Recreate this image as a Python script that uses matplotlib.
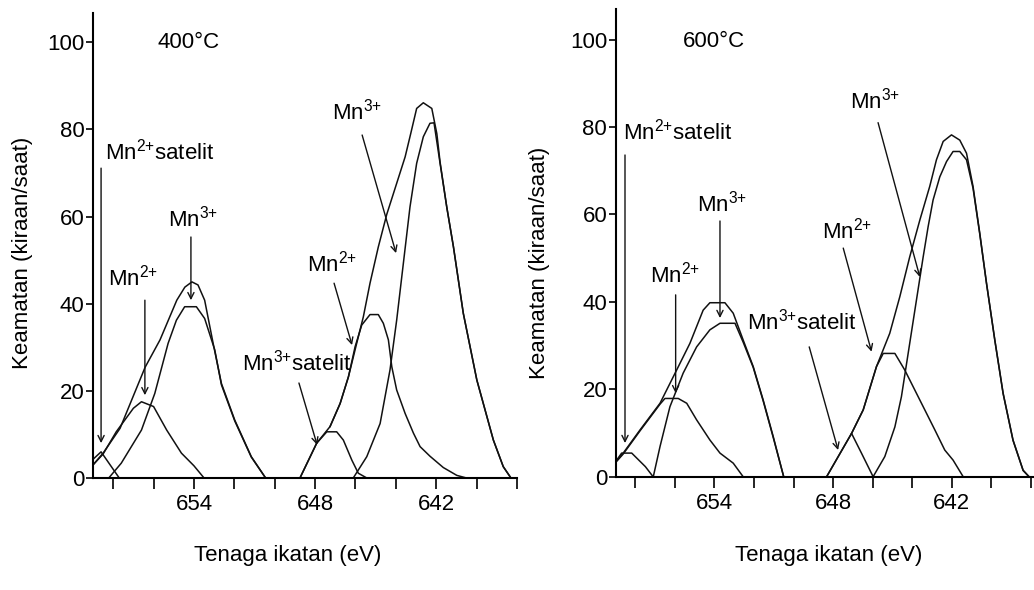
import matplotlib
matplotlib.use("Agg")
import matplotlib.pyplot as plt

plt.rcParams["font.family"] = ["Liberation Sans", "DejaVu Sans"]
plt.rcParams["mathtext.fontset"] = "custom"
plt.rcParams["mathtext.rm"] = "Liberation Sans"
plt.rcParams["mathtext.default"] = "regular"

# ---- 400 C : values (binding energy eV, counts/s) ----
sat2_400_ev = [658.95, 658.6, 658.15, 657.7]
sat2_400_i = [4.5, 6.0, 3.0, 0.0]
mn2a_400_ev = [659.0, 658.5, 657.85, 657.0, 656.6, 656.0, 655.35, 654.62, 654.0, 653.5]
mn2a_400_i = [3.0, 5.5, 10.6, 16.0, 17.5, 16.4, 11.0, 5.7, 2.8, 0.0]
mn3a_400_ev = [658.22, 657.6, 656.6, 655.94, 655.28, 654.87, 654.46, 653.88, 653.47,
               652.97, 652.64, 651.98, 651.16, 650.45]
mn3a_400_i = [0.0, 3.4, 11.0, 19.4, 30.9, 36.2, 39.3, 39.3, 36.6, 29.4, 21.4, 13.1, 4.8, 0.0]
env1_400_ev = [659.0, 658.5, 657.66, 656.42, 655.68, 654.85, 654.45, 654.1, 653.8, 653.47,
               653.05, 652.64, 651.98, 651.16, 650.45]
env1_400_i = [3.0, 5.7, 11.4, 25.4, 31.7, 40.8, 43.8, 45.0, 44.3, 40.8, 30.9, 21.7, 13.3, 4.9, 0.0]
sat3_400_ev = [648.75, 647.92, 647.42, 646.93, 646.6, 646.18, 645.86, 645.44]
sat3_400_i = [0.0, 8.0, 10.6, 10.6, 8.7, 4.1, 1.1, 0.0]
mn2b_400_ev = [647.26, 646.76, 646.35, 646.02, 645.69, 645.28, 644.87, 644.62, 644.37, 644.2,
               643.96, 643.54, 643.13, 642.8, 642.31, 641.65, 640.98, 640.5]
mn2b_400_i = [11.8, 17.1, 23.2, 30.1, 35.1, 37.5, 37.5, 35.5, 31.7, 25.5, 20.2, 14.8, 10.3, 7.2,
              5.0, 2.4, 0.6, 0.0]
mn3b_400_ev = [646.11, 645.44, 644.78, 644.29, 643.96, 643.63, 643.3, 642.97, 642.64, 642.31,
               642.11, 641.81, 641.48, 641.15, 640.66, 639.99, 639.17, 638.68, 638.3]
mn3b_400_i = [0.0, 4.9, 12.5, 24.8, 36.2, 49.2, 62.2, 72.2, 78.3, 81.4, 81.5, 72.2, 62.2, 53.1,
              37.8, 22.5, 8.7, 2.6, 0.0]
env2_400_ev = [648.75, 647.92, 647.26, 646.76, 646.35, 645.94, 645.61, 645.28, 644.87, 644.45,
               643.96, 643.54, 643.26, 642.97, 642.64, 642.22, 641.97, 641.81, 641.48, 641.15,
               640.66, 639.99, 639.17, 638.68, 638.3]
env2_400_i = [0.0, 8.0, 11.8, 17.1, 23.2, 30.9, 37.0, 44.7, 53.0, 60.5, 67.6, 73.7, 79.1, 84.8,
              86.1, 84.8, 79.0, 72.5, 62.2, 53.1, 37.8, 22.5, 8.7, 2.6, 0.0]

# ---- 600 C ----
sat2_600_ev = [659.0, 658.69, 658.18, 657.49, 657.1]
sat2_600_i = [3.4, 5.4, 5.4, 2.3, 0.0]
mn2a_600_ev = [659.0, 658.61, 657.76, 656.75, 656.5, 655.83, 655.4, 654.9, 654.23, 653.72,
               653.05, 652.55]
mn2a_600_i = [3.2, 5.2, 10.5, 16.6, 17.9, 17.9, 16.8, 13.0, 8.4, 5.4, 3.1, 0.0]
mn3a_600_ev = [657.09, 656.75, 656.25, 655.58, 654.9, 654.23, 653.72, 652.96, 652.55, 652.04,
               651.54, 651.03, 650.5]
mn3a_600_i = [0.0, 6.9, 16.0, 23.7, 29.7, 33.6, 35.1, 35.1, 30.8, 25.0, 17.4, 9.0, 0.0]
env1_600_ev = [659.0, 658.61, 657.76, 656.75, 655.91, 655.24, 654.57, 654.23, 653.47, 653.05,
               652.55, 652.04, 651.54, 651.03, 650.5]
env1_600_i = [3.4, 5.4, 10.7, 16.8, 24.4, 30.5, 38.1, 39.8, 39.8, 37.4, 31.3, 25.2, 17.6, 9.2, 0.0]
sat3_600_ev = [648.33, 647.07, 646.57, 645.98]
sat3_600_i = [0.0, 9.9, 5.4, 0.0]
mn2b_600_ev = [647.07, 646.48, 645.81, 645.47, 644.88, 644.38, 643.87, 643.37, 642.86, 642.36,
               641.94, 641.43]
mn2b_600_i = [9.9, 15.3, 25.2, 28.2, 28.2, 24.4, 19.8, 15.3, 10.7, 6.1, 3.8, 0.0]
mn3b_600_ev = [645.98, 645.39, 644.88, 644.55, 644.21, 643.87, 643.45, 643.2, 642.95, 642.61,
               642.27, 641.94, 641.6, 641.26, 640.93, 640.59, 640.25, 639.83, 639.41, 638.91,
               638.4, 638.1]
mn3b_600_i = [0.0, 4.6, 11.4, 18.3, 28.2, 38.1, 50.3, 57.2, 63.3, 68.6, 72.1, 74.4, 74.4, 72.5,
              66.0, 55.5, 44.2, 31.2, 19.0, 8.3, 1.4, 0.0]
env2_600_ev = [648.33, 647.07, 646.48, 645.81, 645.14, 644.63, 644.13, 643.62, 643.12, 642.78,
               642.44, 642.02, 641.6, 641.26, 640.93, 640.59, 640.25, 639.83, 639.41, 638.91,
               638.4, 638.1]
env2_600_i = [0.0, 9.9, 15.3, 25.2, 32.8, 41.2, 50.3, 58.7, 66.4, 72.5, 76.7, 78.2, 77.0, 74.0,
              66.4, 55.7, 44.3, 31.3, 19.1, 8.4, 1.5, 0.0]

xticks = [658, 656, 654, 652, 650, 648, 646, 644, 642, 640, 638]
xtick_labels = ["", "", "654", "", "", "648", "", "", "642", "", ""]
yticks = [0, 20, 40, 60, 80, 100]

curves_400 = [(sat2_400_ev, sat2_400_i), (mn2a_400_ev, mn2a_400_i), (mn3a_400_ev, mn3a_400_i),
              (env1_400_ev, env1_400_i), (sat3_400_ev, sat3_400_i), (mn2b_400_ev, mn2b_400_i),
              (mn3b_400_ev, mn3b_400_i), (env2_400_ev, env2_400_i)]
curves_600 = [(sat2_600_ev, sat2_600_i), (mn2a_600_ev, mn2a_600_i), (mn3a_600_ev, mn3a_600_i),
              (env1_600_ev, env1_600_i), (sat3_600_ev, sat3_600_i), (mn2b_600_ev, mn2b_600_i),
              (mn3b_600_ev, mn3b_600_i), (env2_600_ev, env2_600_i)]

MN2 = "Mn$^{2{+}}$"
MN3 = "Mn$^{3{+}}$"

# label text, text position, arrow start, arrow end (data coords)
notes_400 = [
    (MN2 + "satelit", (658.4, 74.8), (658.6, 71.1), (658.6, 8.0)),
    (MN2, (658.25, 45.9), (656.43, 40.8), (656.43, 19.0)),
    (MN3, (655.28, 59.6), (654.15, 55.3), (654.15, 40.8)),
    (MN3, (647.16, 84.2), (645.67, 78.7), (643.99, 51.6)),
    (MN2, (648.4, 49.3), (647.06, 44.7), (646.17, 30.5)),
    (MN3 + "satelit", (651.62, 26.6), (648.8, 21.8), (647.9, 7.6)),
]
notes_600 = [
    (MN2 + "satelit", (658.62, 78.9), (658.52, 73.6), (658.52, 7.7)),
    (MN2, (657.26, 46.2), (655.96, 41.6), (655.96, 19.1)),
    (MN3, (654.88, 62.6), (653.72, 58.5), (653.72, 36.3)),
    (MN3, (647.16, 86.0), (645.73, 81.0), (643.62, 45.7)),
    (MN2, (648.57, 56.4), (647.49, 52.3), (646.06, 28.6)),
    (MN3 + "satelit", (652.36, 35.4), (649.21, 29.7), (647.75, 6.1)),
]

W, H = 1034, 590
fig = plt.figure(figsize=(W / 100, H / 100), dpi=100)


def panel(rect, xlim, ylim, curves, notes, title, title_pos):
    ax = fig.add_axes(rect)
    for ev, inten in curves:
        ax.plot(ev, inten, color="#111111", lw=1.1, solid_joinstyle="round")
    for text, tpos, a0, a1 in notes:
        ax.text(tpos[0], tpos[1], text, fontsize=16, ha="left", va="center")
        ax.annotate("", xy=a1, xytext=a0,
                    arrowprops=dict(arrowstyle="->", lw=1.0, color="#111111",
                                    mutation_scale=11, shrinkA=0, shrinkB=0))
    ax.text(title_pos[0], title_pos[1], title, fontsize=16, ha="left", va="center")
    ax.set_xlim(*xlim)
    ax.set_ylim(*ylim)
    ax.set_xticks(xticks)
    ax.set_xticklabels(xtick_labels)
    ax.set_yticks(yticks)
    ax.tick_params(axis="x", length=8, width=1.2, pad=3.5, labelsize=16)
    ax.tick_params(axis="y", length=5, width=1.2, pad=1, labelsize=16)
    for s in ("top", "right"):
        ax.spines[s].set_visible(False)
    for s in ("left", "bottom"):
        ax.spines[s].set_linewidth(1.5)
    return ax


panel([93 / W, 112 / H, 424 / W, 465 / H], (659.0, 638.0), (0, 106.7),
      curves_400, notes_400, "400°C", (655.83, 100))
panel([615.5 / W, 113.3 / H, 417.5 / W, 467.7 / H], (659.0, 637.9), (0, 107.0),
      curves_600, notes_600, "600°C", (655.57, 99.5))

fig.text(288 / W, 1 - 556 / H, "Tenaga ikatan (eV)", fontsize=16, ha="center", va="center")
fig.text(829 / W, 1 - 556 / H, "Tenaga ikatan (eV)", fontsize=16, ha="center", va="center")
fig.text(23 / W, 1 - 253 / H, "Keamatan (kiraan/saat)", fontsize=16, rotation=90,
         ha="center", va="center")
fig.text(540 / W, 1 - 263 / H, "Keamatan (kiraan/saat)", fontsize=16, rotation=90,
         ha="center", va="center")

fig.savefig("out.png", dpi=100)
